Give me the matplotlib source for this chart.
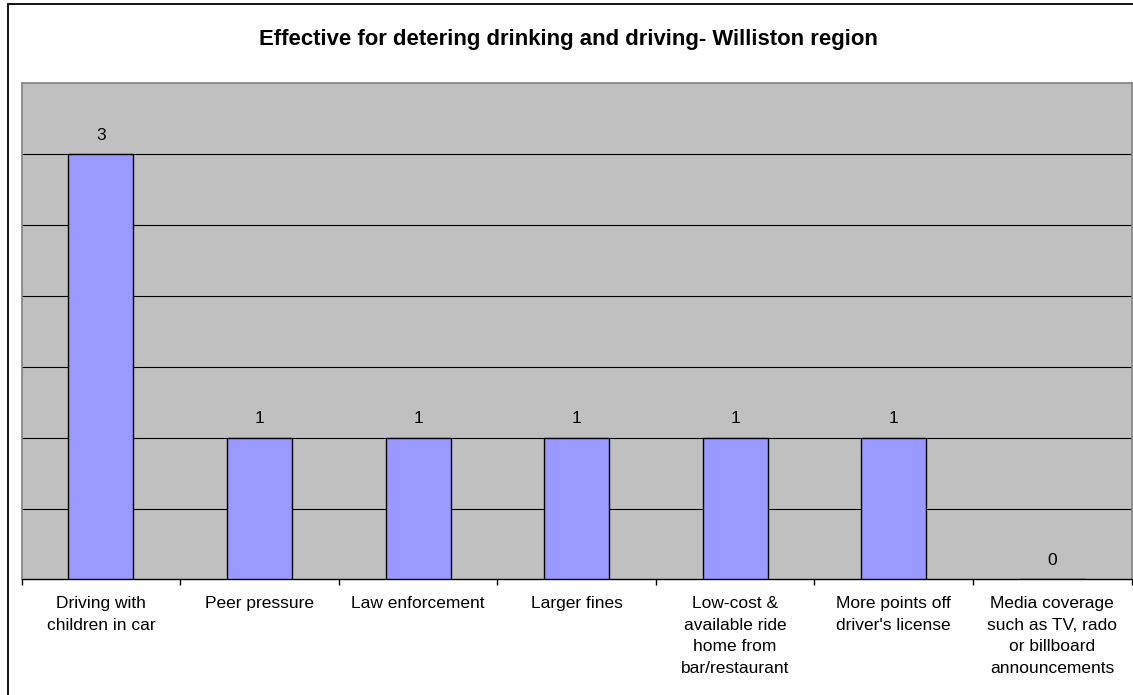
import numpy as np
import matplotlib.pyplot as plt
from matplotlib.patches import Rectangle

plt.rcParams['font.family'] = ['Liberation Sans', 'DejaVu Sans']

categories = [
    'Driving with\nchildren in car',
    'Peer pressure',
    'Law enforcement',
    'Larger fines',
    'Low-cost &\navailable ride\nhome from\nbar/restaurant',
    'More points off\ndriver\'s license',
    'Media coverage\nsuch as TV, rado\nor billboard\nannouncements',
]
counts = [3, 1, 1, 1, 1, 1, 0]
title = 'Effective for detering drinking and driving- Williston region'

fig = plt.figure(figsize=(11.33, 6.95), dpi=100)
ax = fig.add_axes([0.01915, 0.1662, 0.97953, 0.7148])

# outer chart frame (runs off the right and bottom edges)
fig.patches.append(Rectangle((8 / 1133, -0.1), 1.2, 1.1 - 4 / 695,
                             transform=fig.transFigure, fill=False,
                             edgecolor='black', linewidth=1.3, zorder=0))

x = np.arange(len(categories))
ax.set_facecolor('#C0C0C0')
ax.bar(x, counts, width=0.41, color='#9999FF', edgecolor='black',
       linewidth=1.0, zorder=3)

for xi, v in zip(x, counts):
    ax.annotate(str(v), (xi, v), xytext=(0, 8), textcoords='offset points',
                ha='center', va='bottom', fontsize=12.5)

ax.set_xlim(-0.5, len(categories) - 0.5)
ax.set_ylim(0, 3.5)
ax.set_yticks(np.arange(0.5, 3.5, 0.5))
ax.yaxis.grid(True, color='black', linewidth=0.8)
ax.set_axisbelow(True)
ax.tick_params(axis='y', left=False, labelleft=False)

ax.set_xticks(x)
ax.set_xticklabels(categories, fontsize=12.5, linespacing=1.55)
ax.tick_params(axis='x', which='major', length=0, pad=12)
ax.set_xticks(np.arange(-0.5, len(categories), 1.0), minor=True)
ax.tick_params(axis='x', which='minor', length=4, width=1, color='black',
               direction='out')

for side in ['left', 'top', 'right']:
    ax.spines[side].set_color('#808080')
    ax.spines[side].set_linewidth(1.2)
ax.spines['bottom'].set_color('black')
ax.spines['bottom'].set_linewidth(1.0)

fig.text(0.5015, 1 - 39 / 695, title, ha='center', va='center',
         fontsize=15.9, fontweight='bold')

fig.savefig('out.png', dpi=100)
